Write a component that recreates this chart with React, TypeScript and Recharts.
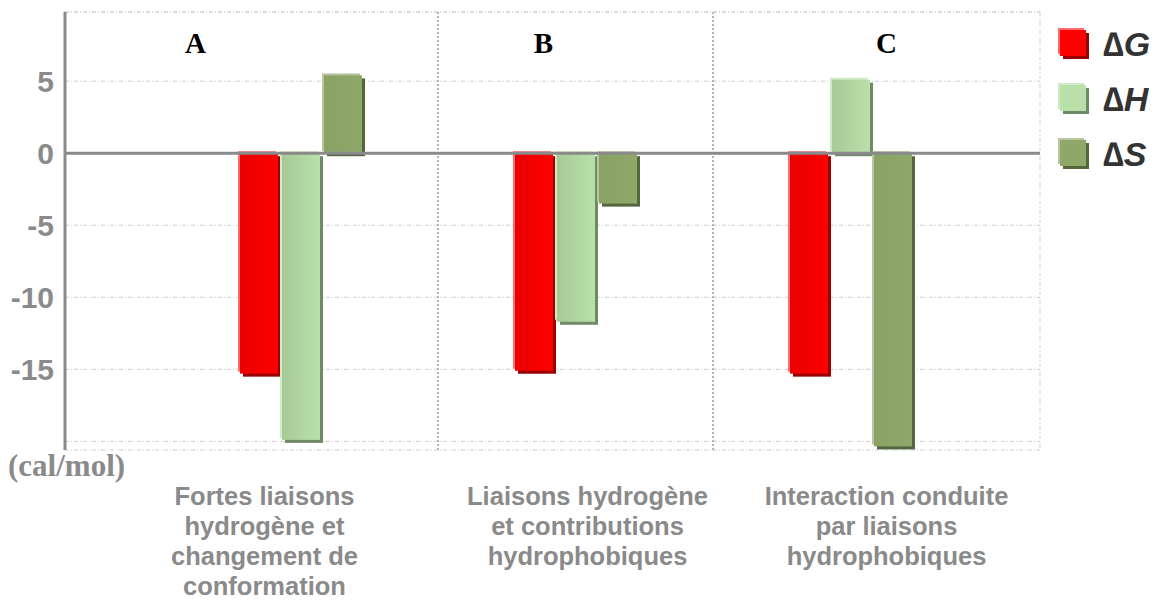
import { Bar, BarChart, CartesianGrid, Legend, ReferenceLine, XAxis, YAxis } from 'recharts'

const categories = ['A', 'B', 'C']
const categoryLines = [
  ['Fortes liaisons', 'hydrogène et', 'changement de', 'conformation'],
  ['Liaisons hydrogène', 'et contributions', 'hydrophobiques'],
  ['Interaction conduite', 'par liaisons', 'hydrophobiques'],
]
const deltaG = [-15.3, -15.1, -15.3]
const deltaH = [-19.9, -11.7, 5.1]
const deltaS = [5.4, -3.5, -20.35]
const yTicks = [-20, -15, -10, -5, 0, 5]

const series = [
  { key: 'dG', name: '∆G', face: ['#e80000', '#ff0000'], light: '#ff6a6a', dark: '#9a0000' },
  { key: 'dH', name: '∆H', face: ['#a6ca96', '#b9e0aa'], light: '#d0e9c6', dark: '#6f8a66' },
  { key: 'dS', name: '∆S', face: ['#8aa263', '#8fa86a'], light: '#b7c6a0', dark: '#55663d' },
]

const data = categories.map((c, i) => ({ cat: c, dG: deltaG[i], dH: deltaH[i], dS: deltaS[i] }))

// layout bits (not data)
const PAD_L = 98
const PAD_R = 52
const LETTER_DX = [-105, -32, 36]
const LABEL_DX = [-36, 12, 36]
const GRAY = '#8a8a8a'
const SANS = 'Liberation Sans, Arial, sans-serif'
const SERIF = 'Liberation Serif, Times New Roman, serif'

function makeShape(s: (typeof series)[number]) {
  return (props: any) => {
    const { x, y, width, height } = props
    if (width == null || height == null) return null
    const top = Math.min(y, y + height)
    const h = Math.abs(height)
    return (
      <g>
        <rect x={x + 3} y={top + 3} width={width} height={h} fill={s.dark} />
        <rect x={x - 2} y={top - 2} width={width} height={h} fill={s.light} />
        <rect x={x} y={top} width={width} height={h} fill={`url(#grad-${s.key})`} />
      </g>
    )
  }
}

function CategoryTick(props: any) {
  const { x, payload, index } = props
  const i = index ?? categories.indexOf(payload.value)
  const lines = categoryLines[i]
  const cx = x + LABEL_DX[i]
  return (
    <g>
      <text x={cx} y={505} textAnchor="middle" fill={GRAY} fontFamily={SANS} fontWeight={700} fontSize={25.5}>
        {lines.map((l, k) => (
          <tspan key={k} x={cx} dy={k === 0 ? 0 : 30}>
            {l}
          </tspan>
        ))}
      </text>
      <text x={x + LETTER_DX[i]} y={53} textAnchor="middle" fill="#000" fontFamily={SERIF} fontWeight={700} fontSize={29}>
        {categories[i]}
      </text>
    </g>
  )
}

function ValueTick(props: any) {
  const { y, payload } = props
  if (payload.value === -20) return null
  return (
    <text x={54} y={y} dy={11} textAnchor="end" fill={GRAY} fontFamily={SANS} fontWeight={700} fontSize={30}>
      {payload.value}
    </text>
  )
}

function LegendBox() {
  return (
    <div>
      {series.map((s) => (
        <div key={s.key} style={{ display: 'flex', alignItems: 'center', height: 55 }}>
          <svg width={34} height={34} style={{ marginRight: 11 }}>
            <rect x={5} y={5} width={26} height={26} fill={s.dark} />
            <rect x={0} y={0} width={26} height={26} fill={s.light} />
            <rect x={2} y={2} width={26} height={26} fill={s.face[1]} />
          </svg>
          <span style={{ fontFamily: SANS, fontWeight: 700, fontStyle: 'italic', fontSize: 34, color: '#333' }}>
            {s.name}
          </span>
        </div>
      ))}
    </div>
  )
}

export default function App() {
  return (
    <div style={{ position: 'absolute', left: 0, top: 0, width: 1163, height: 601, background: '#fff' }}>
      <BarChart
        width={1163}
        height={601}
        data={data}
        margin={{ top: 12, right: 123, bottom: 0, left: 0 }}
        barSize={38}
        barGap={4}
      >
        <defs>
          {series.map((s) => (
            <linearGradient key={s.key} id={`grad-${s.key}`} x1="0" y1="0" x2="1" y2="0">
              <stop offset="0%" stopColor={s.face[0]} />
              <stop offset="100%" stopColor={s.face[1]} />
            </linearGradient>
          ))}
        </defs>
        <CartesianGrid
          stroke="#cfcfcf"
          strokeDasharray="4 2 1 2"
          verticalCoordinatesGenerator={({ offset }: any) => [offset.left + offset.width]}
        />
        <CartesianGrid
          horizontal={false}
          stroke="#9a9a9a"
          strokeWidth={1.5}
          strokeDasharray="2 2"
          verticalCoordinatesGenerator={({ offset }: any) => {
            const band = (offset.width - PAD_L - PAD_R) / 3
            const start = offset.left + PAD_L
            return [start + band, start + 2 * band]
          }}
        />
        <XAxis
          dataKey="cat"
          height={151}
          padding={{ left: PAD_L, right: PAD_R }}
          axisLine={false}
          tickLine={false}
          interval={0}
          tick={<CategoryTick />}
        />
        <YAxis
          width={65}
          domain={[-20.6, 9.8]}
          ticks={yTicks}
          interval={0}
          axisLine={{ stroke: GRAY, strokeWidth: 3 }}
          tickLine={false}
          tick={<ValueTick />}
        />
        <ReferenceLine y={9.8} stroke="#cfcfcf" strokeDasharray="4 2 1 2" />
        {series.map((s) => (
          <Bar key={s.key} dataKey={s.key} name={s.name} fill={s.face[1]} shape={makeShape(s)} isAnimationActive={false} />
        ))}
        <ReferenceLine y={0} stroke={GRAY} strokeWidth={3} />
        <Legend
          layout="vertical"
          align="center"
          verticalAlign="middle"
          wrapperStyle={{ left: 1058, top: 17, width: 105 }}
          content={<LegendBox />}
        />
      </BarChart>
      <div
        style={{
          position: 'absolute',
          left: 8,
          top: 448,
          fontFamily: SERIF,
          fontWeight: 700,
          fontSize: 31,
          color: GRAY,
        }}
      >
        (cal/mol)
      </div>
    </div>
  )
}
